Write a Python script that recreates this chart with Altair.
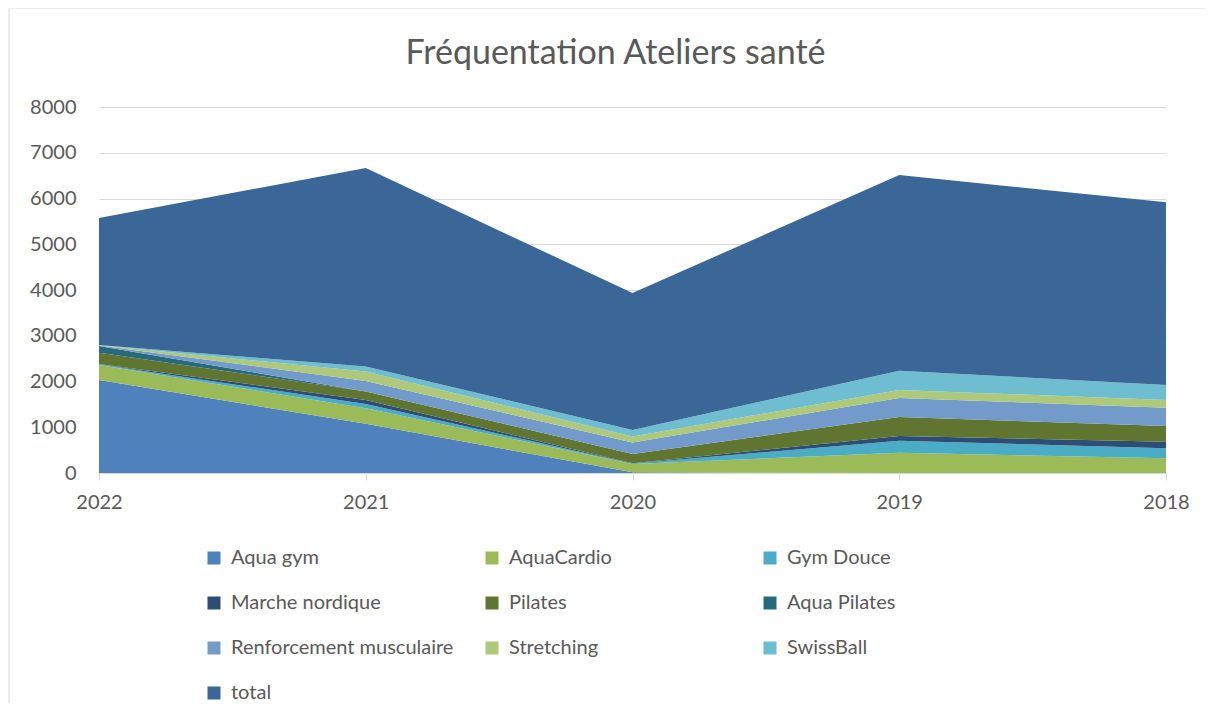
import altair as alt
import pandas as pd

years = ["2022", "2021", "2020", "2019", "2018"]
series = ["Aqua gym", "AquaCardio", "Gym Douce", "Marche nordique", "Pilates",
          "Aqua Pilates", "Renforcement musculaire", "Stretching", "SwissBall", "total"]
colors = ["#4F81BD", "#9BBB59", "#4BACC6", "#2C4D75", "#5F7530",
          "#276A7C", "#729ACA", "#AFC97A", "#6FBDD1", "#3A6698"]

aqua_gym = [2035, 1075, 15, 0, 0]
aquacardio = [325, 340, 182, 444, 321]
gym_douce = [15, 95, 10, 263, 219]
marche_nordique = [10, 88, 5, 102, 144]
pilates = [245, 182, 205, 415, 343]
aqua_pilates = [146, 0, 0, 0, 0]
renforcement = [10, 233, 248, 415, 401]
stretching = [5, 204, 131, 175, 168]
swissball = [5, 109, 146, 422, 328]
total = [2780, 4340, 2990, 4278, 3993]

values = [aqua_gym, aquacardio, gym_douce, marche_nordique, pilates,
          aqua_pilates, renforcement, stretching, swissball, total]

rows = []
for si, (name, vals) in enumerate(zip(series, values)):
    for y, v in zip(years, vals):
        rows.append({"year": y, "series": name, "value": v, "idx": si})
df = pd.DataFrame(rows)

FONT = "Lato"
TXT = "#595959"

area = alt.Chart(df).mark_area().encode(
    x=alt.X("year:O", sort=years, title=None,
            scale=alt.Scale(type="point", padding=0),
            axis=alt.Axis(labelAngle=0, domainColor="#D9D9D9", tickColor="#D9D9D9",
                          tickSize=7, labelPadding=12, grid=False,
                          labelFontSize=20, labelColor=TXT, labelFont=FONT)),
    y=alt.Y("value:Q", stack="zero", title=None,
            scale=alt.Scale(domain=[0, 8000]),
            axis=alt.Axis(values=list(range(0, 8001, 1000)), format="d",
                          domain=False, ticks=False,
                          gridColor="#D9D9D9", gridWidth=1, labelPadding=23,
                          labelFontSize=20, labelColor=TXT, labelFont=FONT)),
    color=alt.Color("series:N", sort=series,
                    scale=alt.Scale(domain=series, range=colors),
                    legend=alt.Legend(title=None, orient="none", legendX=105, legendY=441,
                                      direction="horizontal",
                                      columns=3, columnPadding=28, rowPadding=25,
                                      gridAlign="all", symbolType="square",
                                      symbolSize=169, symbolStrokeWidth=0,
                                      labelFont=FONT, labelFontSize=20, labelColor=TXT,
                                      labelOffset=7, padding=0, labelLimit=400)),
    order=alt.Order("idx:Q", sort="ascending"),
)

border = alt.Chart(alt.Data(values=[{}])).mark_rect(
    filled=False, stroke="#D9D9D9", strokeWidth=1
).encode(x=alt.value(-90), x2=alt.value(1300), y=alt.value(-99), y2=alt.value(800))

chart = alt.layer(border, area).properties(
    width=1067, height=366,
    autosize=alt.AutoSizeParams(type="none"),
    padding={"left": 91, "top": 99, "right": 40, "bottom": 230},
    title=alt.TitleParams("Fréquentation Ateliers santé", fontSize=34, font=FONT,
                          color=TXT, fontWeight="normal", anchor="middle",
                          baseline="alphabetic", dx=-17, offset=-90),
).configure_view(strokeWidth=0)

chart.save("out.html", embed_options={"renderer": "svg", "actions": False})
